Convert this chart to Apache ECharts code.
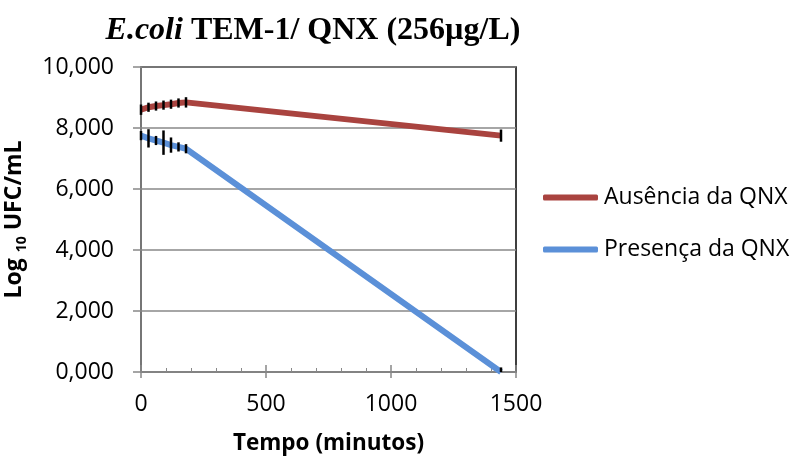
<!DOCTYPE html>
<html>
<head>
<meta charset="utf-8">
<script src="https://cdn.jsdelivr.net/npm/echarts@6/dist/echarts.min.js"></script>
<style>
  html, body { margin: 0; padding: 0; background: #fff; }
  #chart { width: 791px; height: 458px; }
</style>
</head>
<body>
<div id="chart"></div>
<script>
// tempo em minutos
const tempo = [0, 30, 60, 90, 120, 150, 180, 1440]
// log10 UFC/mL
const ausencia = [8.6, 8.68, 8.72, 8.75, 8.78, 8.82, 8.84, 7.75]
const presenca = [7.75, 7.66, 7.59, 7.52, 7.44, 7.38, 7.32, 0]
// desvios (barras de erro)
const errAusencia = [0.17, 0.15, 0.15, 0.15, 0.15, 0.15, 0.17, 0.2]
const errPresenca = [0.15, 0.3, 0.15, 0.4, 0.25, 0.15, 0.15, 0.15]
const yTicks = [0, 2, 4, 6, 8, 10]

const pts = (ys) => tempo.map((t, i) => [t, ys[i]])
const errPts = (ys, es) => tempo.map((t, i) => [t, ys[i] - es[i], ys[i] + es[i]])

const font = 'Open Sans'
const red = '#A9433F'
const blue = '#5B90D8'

const errorBar = (data) => ({
  type: 'custom',
  data: data,
  z: 5,
  silent: true,
  renderItem: function (params, api) {
    const a = api.coord([api.value(0), Math.max(api.value(1), 0)])
    const b = api.coord([api.value(0), api.value(2)])
    return {
      type: 'line',
      shape: { x1: a[0], y1: a[1], x2: b[0], y2: b[1] },
      style: { stroke: '#000', lineWidth: 2.5 }
    }
  }
})

const myChart = echarts.init(document.getElementById('chart'))
const option = {
  animation: false,
  title: {
    text: '{i|E.coli}{b| TEM-1/ QNX (256µg/L)}',
    left: 308,
    textAlign: 'center',
    top: 10,
    textStyle: {
      rich: {
        i: { fontFamily: 'Liberation Serif', fontSize: 32, fontWeight: 'bold', fontStyle: 'italic', color: '#000' },
        b: { fontFamily: 'Liberation Serif', fontSize: 32, fontWeight: 'bold', color: '#000' }
      }
    }
  },
  legend: {
    orient: 'vertical',
    left: 538,
    top: 181,
    icon: 'roundRect',
    itemWidth: 55,
    itemHeight: 6,
    itemGap: 29,
    data: ['Ausência da QNX', 'Presença da QNX'],
    textStyle: { fontFamily: font, fontSize: 23, color: '#000', padding: [0, 0, 0, 1] }
  },
  grid: {
    left: 141,
    right: 275,
    top: 67,
    bottom: 86,
    outerBoundsMode: 'none',
    show: true,
    borderColor: '#000',
    borderWidth: 1.5
  },
  xAxis: [
    {
      type: 'value',
      min: 0,
      max: 1500,
      interval: 500,
      name: 'Tempo (minutos)',
      nameLocation: 'middle',
      nameGap: 60,
      nameTextStyle: { fontFamily: font, fontSize: 22.5, fontWeight: 'bold', color: '#000' },
      axisLine: { lineStyle: { color: '#888', width: 1.5 } },
      axisTick: { show: true, length: 6, lineStyle: { color: '#888', width: 1.5 } },
      axisLabel: { fontFamily: font, fontSize: 23, color: '#000', margin: 21, formatter: (v) => String(v) },
      splitLine: { show: false }
    },
    {
      type: 'value',
      position: 'bottom',
      min: 0,
      max: 1500,
      interval: 500,
      axisLine: { show: false },
      axisLabel: { show: false },
      axisTick: { show: true, inside: true, length: 7, lineStyle: { color: '#888', width: 1.5 } },
      minorTick: { show: true, splitNumber: 5, length: 4, lineStyle: { color: '#888', width: 1 } },
      splitLine: { show: false }
    }
  ],
  yAxis: {
    type: 'value',
    min: yTicks[0],
    max: yTicks[yTicks.length - 1],
    interval: 2,
    name: '{a|Log }{s|10}{a| UFC/mL}',
    nameLocation: 'middle',
    nameGap: 112,
    nameRotate: 90,
    nameTextStyle: {
      rich: {
        a: { fontFamily: font, fontSize: 23, fontWeight: 'bold', color: '#000', lineHeight: 30 },
        s: { fontFamily: font, fontSize: 14, fontWeight: 'bold', color: '#000', lineHeight: 30, verticalAlign: 'bottom' }
      }
    },
    axisLine: { show: true, lineStyle: { color: '#888', width: 1.5 } },
    axisTick: { show: true, length: 8, lineStyle: { color: '#888', width: 1.5 } },
    axisLabel: {
      fontFamily: font,
      fontSize: 23,
      color: '#000',
      margin: 27,
      formatter: (v) => v.toFixed(3).replace('.', ',').replace(/^(\d+),(\d)(\d\d)$/, (m, a, b, c) => a + ',' + b + c)
    },
    splitLine: { lineStyle: { color: '#888', width: 1.5 } }
  },
  series: [
    {
      name: 'Ausência da QNX',
      type: 'line',
      data: pts(ausencia),
      symbol: 'none',
      lineStyle: { color: red, width: 6 },
      itemStyle: { color: red },
      z: 3
    },
    {
      name: 'Presença da QNX',
      type: 'line',
      data: pts(presenca),
      symbol: 'none',
      lineStyle: { color: blue, width: 6 },
      itemStyle: { color: blue },
      z: 3
    },
    errorBar(errPts(ausencia, errAusencia)),
    errorBar(errPts(presenca, errPresenca))
  ]
}
myChart.setOption(option)
</script>
</body>
</html>
